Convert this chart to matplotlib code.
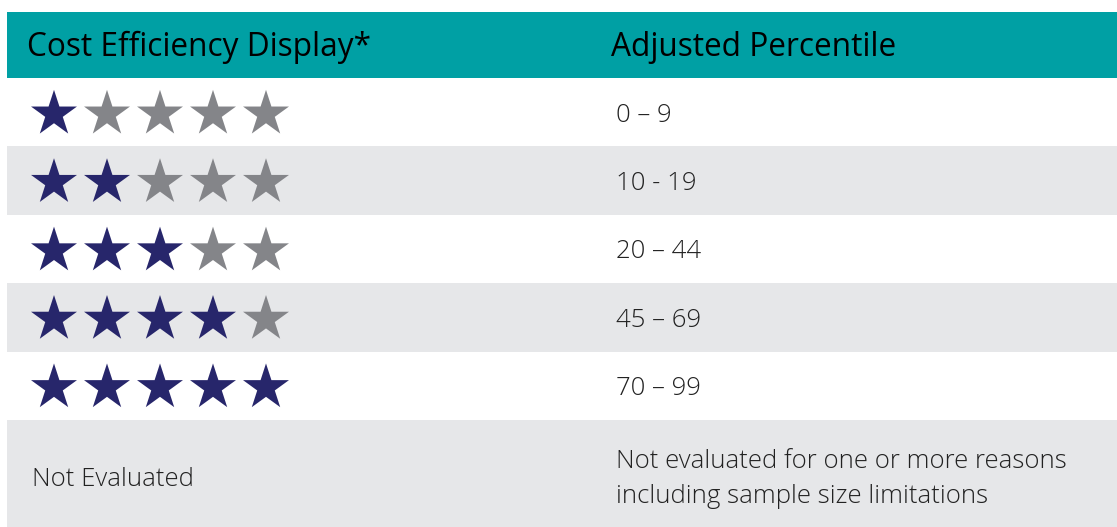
import matplotlib.pyplot as plt

# table content
headers = ["Cost Efficiency Display*", "Adjusted Percentile"]
star_counts = [1, 2, 3, 4, 5]
percentiles = ["0 \u2013 9", "10 - 19", "20 \u2013 44", "45 \u2013 69", "70 \u2013 99"]
na_label = "Not Evaluated"
na_text = "Not evaluated for one or more reasons\nincluding sample size limitations"

# colours
teal = "#00a0a4"
row_grey = "#e6e7e9"
navy = "#27266b"
star_grey = "#848589"
text_col = "#222222"

W, H = 1117, 527
fig = plt.figure(figsize=(W / 100, H / 100), dpi=100)
ax = fig.add_axes([0, 0, 1, 1])
ax.set_xlim(0, W)
ax.set_ylim(H, 0)
ax.axis("off")

left = 7
head_top, head_bot = 12, 78
row_h = 68.4
col2_x = 616
font = "Open Sans"

# header band
ax.add_patch(plt.Rectangle((left, head_top), W - left, head_bot - head_top, color=teal, lw=0))
ax.text(27, 47, headers[0], fontsize=22.8, family=font, color="black", va="center")
ax.text(611, 47, headers[1], fontsize=22.8, family=font, color="black", va="center")

# star rows
for i, (n, pct) in enumerate(zip(star_counts, percentiles)):
    top = head_bot + i * row_h
    if i % 2 == 1:
        ax.add_patch(plt.Rectangle((left, top), W - left, row_h, color=row_grey, lw=0))
    cy = top + 36
    xs = [54 + 53 * k for k in range(5)]
    cols = [navy if k < n else star_grey for k in range(5)]
    ax.scatter(xs, [cy] * 5, marker="*", s=34.8 ** 2, c=cols, linewidths=0, zorder=3)
    ax.text(col2_x, top + row_h / 2 + 3, pct, fontsize=18.5, family=font, weight=300,
            color=text_col, va="center")

# not evaluated row
top = head_bot + 5 * row_h
ax.add_patch(plt.Rectangle((left, top), W - left, H - top, color=row_grey, lw=0))
ax.text(32, 479, na_label, fontsize=18.5, family=font, weight=300, color=text_col, va="center")
ax.text(col2_x, 479, na_text, fontsize=18.5, family=font, weight=300, color=text_col,
        va="center", linespacing=1.55)

fig.savefig("out.png", dpi=100)
